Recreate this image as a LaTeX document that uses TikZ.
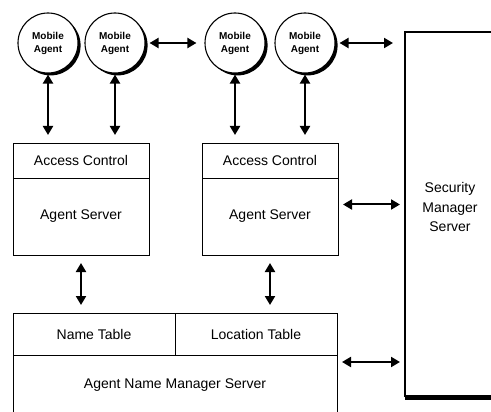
\documentclass[tikz,border=0pt]{standalone}
\usepackage{fontspec}
\setmainfont{Liberation Sans}
\usetikzlibrary{arrows.meta}
\begin{document}
\begin{tikzpicture}[x=1pt,y=-1pt,
  agent/.style={circle, draw, line width=1.1pt, fill=white, minimum size=60pt, inner sep=0pt,
    align=center, font=\fontsize{10}{13}\selectfont\bfseries,
    preaction={fill=black, transform canvas={shift={(2.6pt,-2.4pt)}}}},
  box/.style={draw, line width=0.8pt, inner sep=0pt, outer sep=0pt, anchor=north west,
    font=\fontsize{14}{16}\selectfont},
  lbl/.style={font=\fontsize{14}{16}\selectfont},
  arr/.style={line width=2pt, {Triangle[width=10pt,length=9pt]}-{Triangle[width=10pt,length=9pt]}},
]
\useasboundingbox (0,0) rectangle (491,412);
% mobile agents
\node[agent] (c1) at (48,43) {Mobile\\Agent};
\node[agent] (c2) at (115,43) {Mobile\\Agent};
\node[agent] (c3) at (235,43) {Mobile\\Agent};
\node[agent] (c4) at (305,43) {Mobile\\Agent};
% agent servers
\node[box, minimum width=136pt, minimum height=35pt] (ac1) at (13,143) {Access Control};
\node[box, minimum width=136pt, minimum height=77pt] (as1) at (13,178) {Agent Server};
\node[box, minimum width=136pt, minimum height=35pt] (ac2) at (202,143) {Access Control};
\node[box, minimum width=136pt, minimum height=77pt] (as2) at (202,178) {Agent Server};
% name manager
\node[box, minimum width=162pt, minimum height=42pt] (nt) at (13,313) {Name Table};
\node[box, minimum width=162pt, minimum height=42pt] (lt) at (175,313) {Location Table};
\node[box, minimum width=324pt, minimum height=65pt] (nm) at (13,355) {};
\node[lbl] (nmt) at (175,385) {Agent Name Manager Server};
% security manager
\node[box, line width=1.2pt, minimum width=120pt, minimum height=364pt] (sec) at (405,32) {};
\node[lbl, align=center, font=\fontsize{14}{19.5}\selectfont] (sect) at (450,207) {Security\\Manager\\Server};
\draw[line width=4pt] ([yshift=-2pt]sec.south west) -- ([yshift=-2pt]sec.south east);
% connectors
\draw[arr, shorten <=1pt, shorten >=8pt] (c1.south) -- (c1.south |- ac1.north);
\draw[arr, shorten <=1pt, shorten >=8pt] (c2.south) -- (c2.south |- ac1.north);
\draw[arr, shorten <=1pt, shorten >=8pt] (c3.south) -- (c3.south |- ac2.north);
\draw[arr, shorten <=1pt, shorten >=8pt] (c4.south) -- (c4.south |- ac2.north);
\draw[arr, shorten <=4pt, shorten >=8pt] (c2.east) -- (c3.west);
\draw[arr, shorten <=4pt, shorten >=12pt] (c4.east) -- (c4.east -| sec.west);
\draw[arr, shorten <=8pt, shorten >=8pt] (as1.south) -- (as1.south |- nt.north);
\draw[arr, shorten <=8pt, shorten >=8pt] (as2.south) -- (as2.south |- lt.north);
\draw[arr, shorten <=5pt, shorten >=5pt] ([yshift=12pt]as2.east) -- ([yshift=12pt]as2.east -| sec.west);
\draw[arr, shorten <=5pt, shorten >=5pt] ([yshift=-7pt]lt.south east) -- ([yshift=-7pt]lt.south east -| sec.west);
\end{tikzpicture}
\end{document}
